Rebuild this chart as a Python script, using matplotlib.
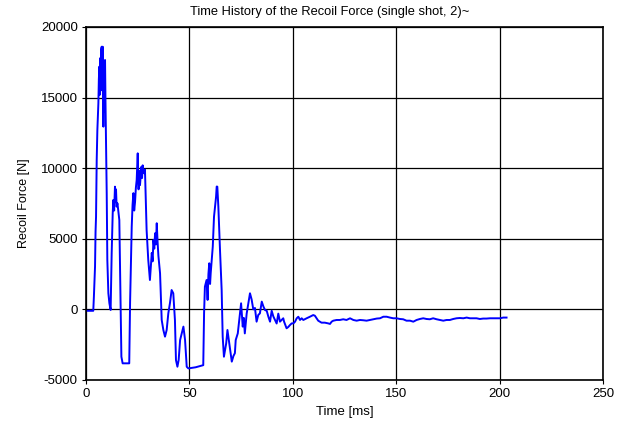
import matplotlib
matplotlib.use("Agg")
import matplotlib.pyplot as plt

plt.rcParams["axes.unicode_minus"] = False

# recoil force trace
t_ms = [
    0.0, 1.5, 3.5, 3.8, 4.35, 4.6, 4.84, 5.16, 5.48, 5.97, 6.2, 6.45, 6.7,
    6.9, 7.1, 7.3, 7.58, 7.8, 8.06, 8.2, 8.38, 8.7, 8.9, 9.19, 9.4, 9.67,
    10.0, 10.3, 10.8, 11.3, 11.9, 12.4, 12.9, 13.2, 13.6, 14.0, 14.3, 14.5,
    14.8, 15.2, 16.1, 16.4, 16.8, 17.1, 17.7, 20.9, 21.3, 22.1, 22.5, 22.9,
    23.3, 23.7, 24.1, 24.5, 25.0, 25.4, 25.8, 26.1, 26.4, 26.8, 27.1, 27.4,
    27.7, 28.1, 28.5, 29.3, 30.1, 30.9, 31.8, 32.2, 32.6, 33.0, 33.4, 33.8,
    34.2, 34.6, 35.0, 35.8, 36.6, 37.4, 38.2, 39.0, 39.8, 40.6, 41.4, 42.2,
    43.0, 43.5, 44.2, 44.8, 45.5, 46.3, 47.1, 47.9, 48.7, 49.5, 53.0, 56.7,
    57.1, 57.5, 58.3, 58.8, 59.2, 59.6, 60.0, 60.3, 61.3, 61.9, 62.9, 63.2,
    63.5, 64.0, 64.8, 65.6, 66.1, 66.7, 67.8, 68.4, 69.3, 70.5, 71.3, 72.0,
    72.4, 73.4, 74.5, 75.0, 75.8, 76.3, 76.8, 77.7, 78.5, 79.3, 80.1, 80.9,
    81.7, 82.5, 83.3, 84.1, 85.0, 85.8, 86.6, 87.4, 88.2, 89.0, 89.8, 90.6,
    91.4, 92.2, 93.0, 93.8, 94.6, 95.4, 95.8, 97.0, 97.8, 98.7, 99.5, 100.3,
    101.1, 101.9, 102.7, 103.5, 104.3, 105.1, 106.7, 108.3, 109.9, 110.7,
    111.5, 112.3, 113.9, 115.5, 117.1, 118.0, 118.8, 119.6, 121.2, 122.8,
    124.4, 126.0, 127.7, 129.3, 130.9, 132.5, 134.1, 135.7, 137.3, 139.0,
    140.6, 142.2, 143.8, 145.4, 147.0, 148.6, 150.2, 151.8, 153.4, 155.0,
    156.7, 158.3, 159.9, 161.5, 163.1, 164.7, 166.3, 167.9, 169.6, 171.2,
    172.8, 174.4, 176.0, 177.6, 179.2, 180.8, 182.5, 184.1, 185.7, 187.3,
    188.9, 190.5, 192.1, 193.7, 195.4, 197.0, 198.6, 200.2, 201.8, 203.4,
]
force_n = [
    -100, -100, -100, 900, 3025, 5500, 6565, 10580, 12705, 14595, 16300,
    17190, 15200, 17800, 15500, 18400, 18600, 16000, 18600, 14500, 12940,
    16500, 14000, 17660, 14800, 12000, 8220, 3500, 1140, 430, -40, 3970,
    6800, 7750, 7000, 8690, 7600, 8500, 7275, 7510, 6330, 3500, -750, -3350,
    -3820, -3820, 450, 5860, 7400, 8230, 7000, 7600, 8600, 9160, 11050,
    8500, 9800, 8800, 9400, 10100, 9300, 10200, 9800, 9640, 9900, 5620,
    3500, 2080, 4000, 3400, 4910, 4300, 5390, 4600, 6100, 4800, 3800, 2560,
    -750, -1460, -1930, -1460, -280, 450, 1370, 1140, -750, -3590, -4060,
    -3590, -2170, -1700, -1220, -2170, -4060, -4180, -4100, -3950, -250,
    1610, 2080, 670, 2500, 3265, 1800, 2560, 4440, 6560, 7980, 8700, 8690,
    7275, 4200, 1370, -1930, -3350, -2400, -1460, -2400, -3700, -3300,
    -3100, -2170, -1700, -280, 430, -1220, -600, -1700, -300, 430, 1140,
    700, 0, 100, -870, -400, -280, 550, 200, -50, -100, -520, -870, -100,
    -500, -750, -1000, -300, -870, -750, -630, -870, -1340, -1250, -1100,
    -990, -990, -870, -630, -520, -750, -630, -750, -630, -520, -400, -450,
    -630, -800, -940, -940, -990, -1030, -870, -800, -750, -750, -700, -750,
    -630, -750, -800, -750, -770, -800, -750, -700, -650, -630, -520, -520,
    -580, -630, -630, -680, -700, -800, -800, -870, -750, -680, -630, -680,
    -700, -630, -700, -750, -800, -750, -750, -680, -630, -610, -630, -580,
    -630, -630, -630, -680, -650, -650, -630, -630, -630, -630, -580, -580,
]

font = ["Liberation Sans", "DejaVu Sans"]

fig = plt.figure(figsize=(6.28, 4.21), dpi=100)
ax = fig.add_axes([0.137, 0.0974, 0.823, 0.8386])

ax.plot(t_ms, force_n, color="#0000ff", lw=1.4)

ax.set_xlim(0, 250)
ax.set_ylim(-5000, 20000)
ax.set_xticks(range(0, 251, 50))
ax.set_yticks(range(-5000, 20001, 5000))
ax.grid(True, color="black", lw=0.9)
for s in ax.spines.values():
    s.set_linewidth(1.2)
ax.tick_params(direction="out", length=3, labelsize=9.5, pad=3)
for lab in ax.get_xticklabels() + ax.get_yticklabels():
    lab.set_family(font)

fig.text(330 / 628, 1 - 12 / 421, "Time History of the Recoil Force (single shot, 2)~",
         ha="center", va="center", fontsize=9.3, family=font)
ax.set_xlabel("Time [ms]", fontsize=9.5, family=font, labelpad=4)
ax.set_ylabel("Recoil Force [N]", fontsize=9, family=font, labelpad=8)

fig.savefig("out.png", dpi=100)
